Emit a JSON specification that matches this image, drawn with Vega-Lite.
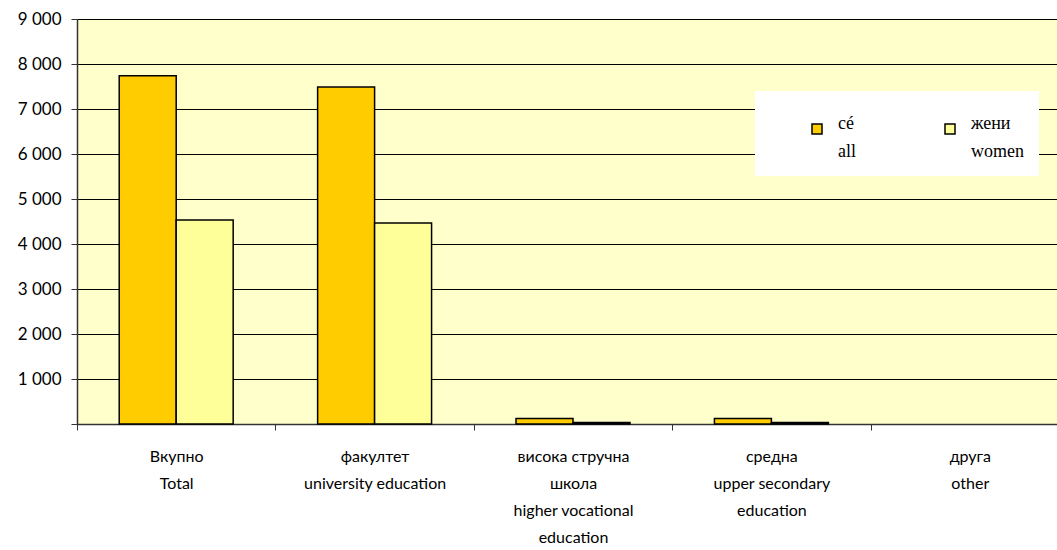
{
  "$schema": "https://vega.github.io/schema/vega-lite/v6.json",
  "width": 992,
  "height": 405,
  "autosize": {"type": "none"},
  "padding": {"left": 77, "top": 19, "right": -12, "bottom": 126},
  "background": "white",
  "data": {
    "values": [
      {"cat": "Вкупно|Total", "series": "cé|all", "value": 7740},
      {"cat": "Вкупно|Total", "series": "жени|women", "value": 4535},
      {"cat": "факултет|university education", "series": "cé|all", "value": 7490},
      {"cat": "факултет|university education", "series": "жени|women", "value": 4465},
      {"cat": "висока стручна|школа|higher vocational|education", "series": "cé|all", "value": 120},
      {"cat": "висока стручна|школа|higher vocational|education", "series": "жени|women", "value": 35},
      {"cat": "средна|upper secondary|education", "series": "cé|all", "value": 120},
      {"cat": "средна|upper secondary|education", "series": "жени|women", "value": 35},
      {"cat": "друга|other", "series": "cé|all", "value": 0},
      {"cat": "друга|other", "series": "жени|women", "value": 0}
    ]
  },
  "config": {
    "view": {"fill": "#FFFFCC", "stroke": null},
    "font": "Lato",
    "style": {"guide-label": {"lineHeight": 28}}
  },
  "mark": {"type": "bar", "stroke": "black", "strokeWidth": 1.5},
  "encoding": {
    "x": {
      "field": "cat",
      "type": "nominal",
      "sort": null,
      "title": null,
      "scale": {"paddingInner": 0, "paddingOuter": 0},
      "axis": {
        "labelExpr": "split(datum.label, '|')",
        "labelAngle": 0,
        "labelFont": "Lato",
        "labelFontSize": 16,
        "labelColor": "black",
        "labelLineHeight": 27,
        "labelPadding": 18,
        "labelBaseline": "top",
        "tickBand": "extent",
        "tickSize": 6,
        "tickColor": "#333",
        "domainColor": "#333",
        "domainWidth": 1.5,
        "grid": false
      }
    },
    "xOffset": {
      "field": "series",
      "type": "nominal",
      "scale": {"domain": ["cé|all", "жени|women"], "paddingInner": 0, "paddingOuter": 0.741}
    },
    "y": {
      "field": "value",
      "type": "quantitative",
      "title": null,
      "scale": {"domain": [0, 9000], "nice": false},
      "axis": {
        "values": [0, 1000, 2000, 3000, 4000, 5000, 6000, 7000, 8000, 9000],
        "labelExpr": "datum.value == 0 ? '' : replace(format(datum.value, ','), ',', ' ')",
        "labelFont": "Lato",
        "labelFontSize": 17,
        "labelColor": "black",
        "labelPadding": 10,
        "tickSize": 6,
        "tickColor": "#333",
        "domainColor": "#333",
        "domainWidth": 1.5,
        "gridColor": "black",
        "gridWidth": 1,
        "gridOpacity": 1
      }
    },
    "strokeOpacity": {
      "condition": {"test": "datum.value == 0", "value": 0},
      "value": 1
    },
    "color": {
      "field": "series",
      "type": "nominal",
      "title": null,
      "scale": {"domain": ["cé|all", "жени|women"], "range": ["#FFCC00", "#FFFF99"]},
      "legend": {
        "orient": "none",
        "legendX": 678,
        "legendY": 72,
        "direction": "horizontal",
        "columns": 2,
        "fillColor": "white",
        "padding": 15,
        "title": " ",
        "titleFontSize": 12,
        "titlePadding": 2,
        "symbolOffset": 38,
        "columnPadding": 47,
        "symbolType": "square",
        "symbolSize": 100,
        "symbolStrokeColor": "black",
        "symbolStrokeWidth": 1.5,
        "labelExpr": "split(datum.label, '|')",
        "labelFont": "Liberation Serif",
        "labelFontSize": 18,
        "labelColor": "black",
        "labelOffset": 12,
        "labelBaseline": "alphabetic",
        "labelLimit": 0
      }
    }
  }
}
